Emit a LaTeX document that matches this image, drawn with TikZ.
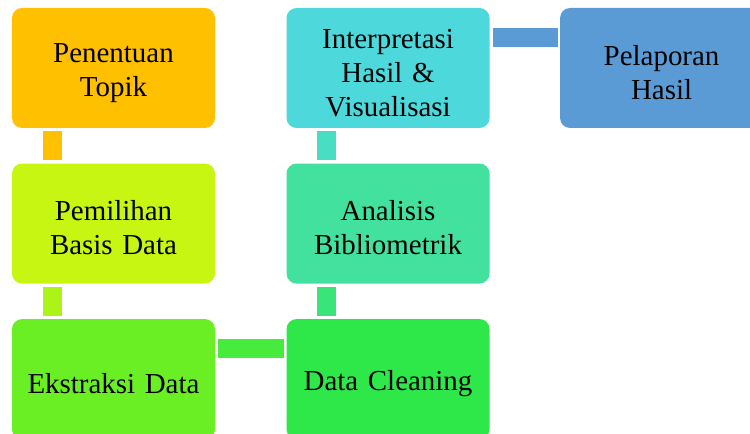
\documentclass[tikz,border=0pt]{standalone}
\usepackage{fontspec}
\setmainfont{Liberation Serif}
\usetikzlibrary{positioning}

\definecolor{topikcol}{HTML}{FFC000}
\definecolor{basiscol}{HTML}{C6F611}
\definecolor{ekstrakcol}{HTML}{6AEF25}
\definecolor{cleancol}{HTML}{2EE84A}
\definecolor{analisiscol}{HTML}{42E29E}
\definecolor{interpcol}{HTML}{4DD9DC}
\definecolor{laporcol}{HTML}{5B9BD5}

\begin{document}
\begin{tikzpicture}[
  node distance=26.25pt and 53.25pt,
  every node/.style={rectangle, rounded corners=7.5pt, minimum width=152.25pt,
    minimum height=90pt, text width=140pt, align=center, inner sep=0pt,
    text height=21.5pt, font=\fontsize{21.7}{25.5}\selectfont},
  bar/.style={line width=14.25pt, line cap=butt}
]
\clip (-85.125pt,51pt) rectangle (477.375pt,-274.5pt);

\node[fill=topikcol] (topik) at (0,0) {Penentuan\\Topik};
\node[fill=basiscol, below=of topik] (basis) {Pemilihan\\Basis Data};
\node[fill=ekstrakcol, below=of basis] (ekstrak) {Ekstraksi Data};
\node[fill=cleancol, right=of ekstrak] (clean) {Data Cleaning};
\node[fill=analisiscol, above=of clean] (analisis) {Analisis\\Bibliometrik};
\node[fill=interpcol, above=of analisis] (interp) {Interpretasi\\Hasil \&\\Visualisasi};
\node[fill=laporcol, right=52.5pt of interp] (lapor) {Pelaporan\\Hasil};

% connectors
\draw[bar, topikcol] ([xshift=30.4pt,yshift=-2.25pt]topik.south west)
  -- ([xshift=30.4pt,yshift=2.25pt]basis.north west);
\draw[bar, color=basiscol!70!ekstrakcol] ([xshift=30.4pt,yshift=-2.25pt]basis.south west)
  -- ([xshift=30.4pt,yshift=2.25pt]ekstrak.north west);
\draw[bar, color=ekstrakcol!40!cleancol] ([xshift=2pt,yshift=-22.1pt]ekstrak.north east)
  -- ([xshift=-2pt,yshift=-22.1pt]clean.north west);
\draw[bar, color=cleancol!45!analisiscol] ([xshift=30.4pt,yshift=2.25pt]clean.north west)
  -- ([xshift=30.4pt,yshift=-2.25pt]analisis.south west);
\draw[bar, color=analisiscol!40!interpcol] ([xshift=30.4pt,yshift=2.25pt]analisis.north west)
  -- ([xshift=30.4pt,yshift=-2.25pt]interp.south west);
\draw[bar, laporcol] ([xshift=2.25pt,yshift=-22.1pt]interp.north east)
  -- ([xshift=-1.5pt,yshift=-22.1pt]lapor.north west);
\end{tikzpicture}
\end{document}
